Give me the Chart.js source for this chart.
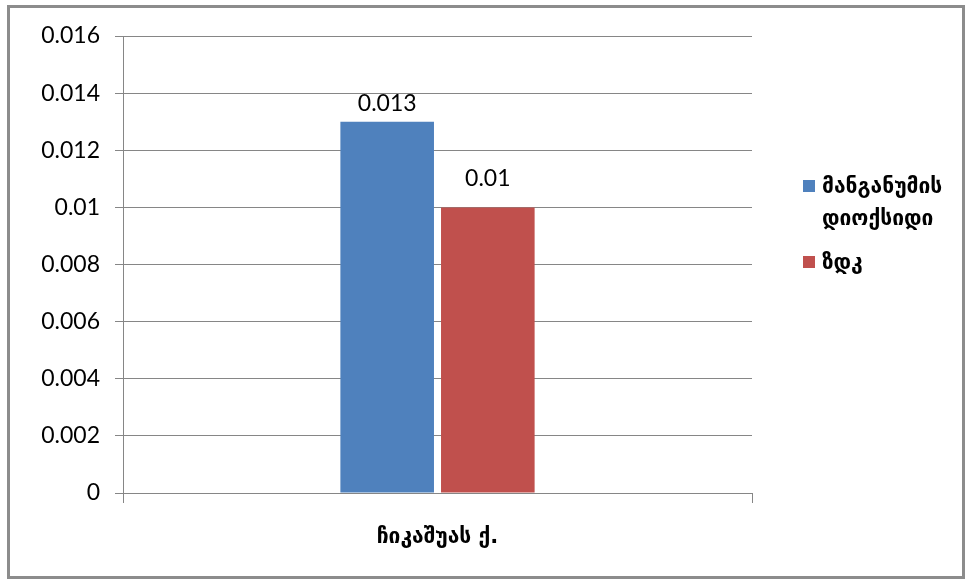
<!DOCTYPE html>
<html>
<head>
<meta charset="utf-8">
<script src="https://cdn.jsdelivr.net/npm/chart.js@4/dist/chart.umd.min.js"></script>
<style>
  body { margin: 0; background: #fff; }
  #wrap { position: relative; width: 970px; height: 584px; }
  #frame { position: absolute; left: 7px; top: 5px; width: 958px; height: 574px; border: 3px solid #8c8c8c; box-sizing: border-box; pointer-events: none; }
  canvas { position: absolute; left: 0; top: 0; }
  .legend { position: absolute; left: 803px; font-family: "DejaVu Sans", sans-serif; font-weight: bold; font-size: 21px; color: #000; }
  .legend .item { position: relative; padding-left: 19px; line-height: 32px; white-space: nowrap; }
  .legend .box { position: absolute; left: 0; top: 10px; width: 12px; height: 12px; }
</style>
</head>
<body>
<div id="wrap">
  <canvas id="chart" width="970" height="584"></canvas>
  <div id="frame"></div>
  <div class="legend" id="legend"></div>
</div>
<script>
// data
const categories = ['ჩიკაშუას ქ.'];
const seriesNames = [['მანგანუმის', 'დიოქსიდი'], ['ზდკ']];
const manganeseValues = [0.013];
const limitValues = [0.01];
const valueLabels = [['0.013'], ['0.01']];

const colors = ['#4f81bd', '#c0504d'];

// draws the value text above each bar
const valueLabelPlugin = {
  id: 'valueLabels',
  afterDatasetsDraw(chart) {
    const ctx = chart.ctx;
    ctx.save();
    ctx.font = '23px Lato';
    ctx.fillStyle = '#000';
    ctx.textAlign = 'center';
    ctx.textBaseline = 'bottom';
    chart.data.datasets.forEach((ds, i) => {
      chart.getDatasetMeta(i).data.forEach((bar, j) => {
        ctx.fillText(valueLabels[i][j], bar.x, bar.y - ds.labelOffset);
      });
    });
    ctx.restore();
  }
};

new Chart(document.getElementById('chart'), {
  type: 'bar',
  data: {
    labels: categories,
    datasets: [
      { label: seriesNames[0].join(' '), data: manganeseValues, backgroundColor: colors[0], labelOffset: 7 },
      { label: seriesNames[1].join(' '), data: limitValues, backgroundColor: colors[1], labelOffset: 17 }
    ]
  },
  options: {
    responsive: false,
    animation: false,
    layout: { padding: { left: 0, top: 36, right: 218, bottom: 0 } },
    datasets: { bar: { categoryPercentage: 0.32, barPercentage: 0.93 } },
    plugins: { legend: { display: false }, tooltip: { enabled: false } },
    scales: {
      x: {
        afterFit(scale) { scale.height = 91; },
        grid: { drawOnChartArea: false, color: '#868686', tickLength: 10 },
        border: { color: '#868686' },
        ticks: { color: '#000', padding: 22, font: { family: 'DejaVu Sans', weight: 'bold', size: 21 } }
      },
      y: {
        min: 0,
        max: 0.016,
        afterFit(scale) { scale.width = 123; },
        grid: { color: '#868686', tickLength: 8 },
        border: { color: '#868686' },
        ticks: {
          stepSize: 0.002,
          color: '#000',
          padding: 15,
          font: { family: 'Lato', size: 23 },
          callback: (v) => v === 0 ? '0' : String(+v.toFixed(3))
        }
      }
    }
  },
  plugins: [valueLabelPlugin]
});

// html legend on the right, names wrap like the original
const legend = document.getElementById('legend');
legend.style.top = '170px';
seriesNames.forEach((lines, i) => {
  const item = document.createElement('div');
  item.className = 'item';
  item.innerHTML = '<span class="box" style="background:' + colors[i] + '"></span>' + lines.join('<br>');
  if (i > 0) item.style.marginTop = '12px';
  legend.appendChild(item);
});
</script>
</body>
</html>
